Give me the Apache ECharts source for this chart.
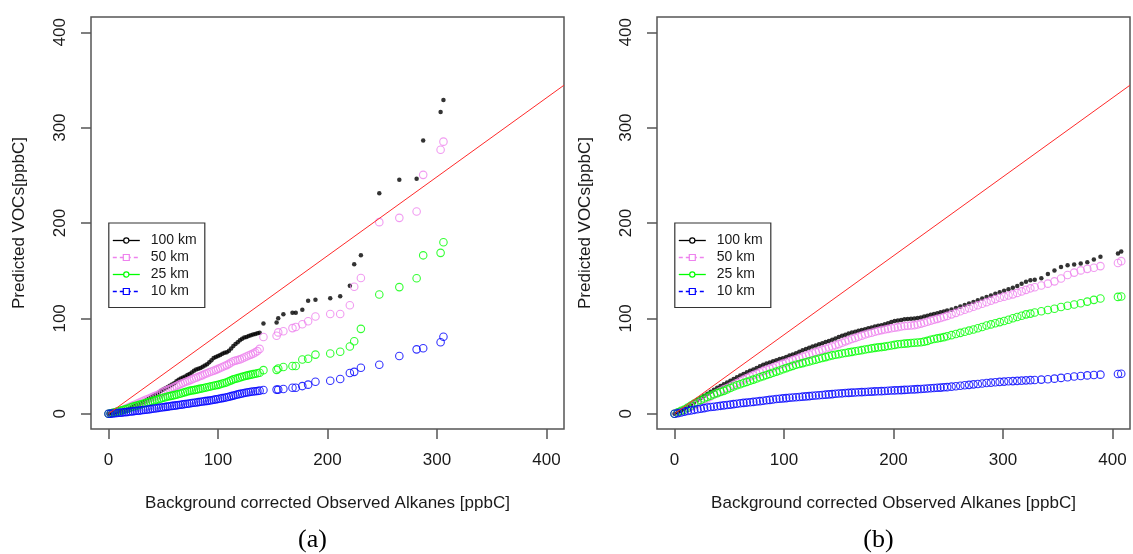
<!DOCTYPE html>
<html><head><meta charset="utf-8">
<script src="https://cdn.jsdelivr.net/npm/echarts@6/dist/echarts.min.js"></script>
<style>html,body{margin:0;padding:0;background:#fff}#c{width:1133px;height:554px}</style>
</head><body><div id="c"></div>
<script>
// ---------- data ----------
const tickValues = [0, 100, 200, 300, 400];
const seriesNames = ['100 km', '50 km', '25 km', '10 km'];
const xTitle = 'Background corrected Observed Alkanes [ppbC]';
const yTitle = 'Predicted VOCs[ppbC]';
const panelLabels = ['(a)', '(b)'];

// panel (a)
const xA = [0,2,4,6,8,10,12,14,16,18, 20,22,24,26,28,30,32,34,36,38,
  40,42,44,46,48,50,52,54,56,58, 60,62,64,66,68,70,72,74,76,78,
  80,82,84,86,88,90,92,94,96,98, 100,102,104,106,108,110,112,114,116,118,
  120,122,124,126,128,130,132,134,136,138,
  141.5,153.5,155,159.7,168,171,177,182.3,189,202.5,211.6,220.4,224.4,230.5,247.3,265.6,281.4,287.4,303.3,305.9];
const a100 = [0,0.3,0.7,1,1.6,2.3,3,3.6,4.3,5, 6,7,8,9,10,11,12.3,13.8,15.5,16.8,
  18,19.5,20.8,22.2,24,25.3,26.7,28,29.3,30.7, 32,34,35.7,37,38,39,40.5,41.8,43.3,45,
  46.3,47.3,48,49.3,50.7,52,54,56,58.5,59.5, 60.5,61.5,62.8,64,64.5,66,68.5,71,73,75,
  77,78.7,80,80.5,81.5,82.3,83,83.7,84.3,85,
  94.6,95.7,100.1,104.2,106,106,109,118.6,119.4,121.2,123.1,134.2,156.8,166.1,231.3,245.3,246.5,286.5,316.5,329];
const a50 = [0,0.5,1,1.5,2.2,2.8,3.5,4.5,5.5,6.5, 7.5,8.5,9.5,10.5,11.5,12.5,13.5,14.7,15.5,16.5,
  17.5,18.5,19.3,20.3,22,23,24,25,26,27, 28,29,30.3,31.3,32.3,33.3,34,35,36,37,
  37.7,38.7,39.5,40.5,41.7,42.5,43.5,44.3,45,46, 47,48,49,50,51,52.3,53.7,55,55.7,56.3,
  57,58,59,60,61,62,63,64.3,65.7,68,
  80.5,81.7,85.3,86.5,89.8,90.9,93.8,97,102,104.6,104.6,113.8,133.1,142.4,200.9,205.4,212,250.5,276.8,285.3];
const a25 = [0,0.5,1,1.5,2.2,2.8,3.5,4.2,4.8,5.5, 6.5,7.3,8,8.7,9.3,10,10.7,11.3,12,12.7,
  13.3,14,14.7,15.3,16,16.7,17.3,18,18.5,19, 19.5,20,20.7,21.3,22,22.7,23.3,24,24.5,24.8,
  25.3,25.8,26.3,26.8,27.3,27.8,28.3,28.8,29.3,29.8, 30.3,31,31.7,32.3,33,34,35,36,36.7,37.3,
  38,38.7,39.3,40,40.5,41,41.5,42,42.5,43,
  45.7,46,47.5,49,50.1,50.1,56.8,57.6,62,63.1,65,70.5,76,89,125,132.8,142,166.1,168.7,179.8];
const a10 = [0,0.1,0.3,0.5,0.7,1,1.2,1.5,1.7,2, 2.3,2.5,2.8,3.1,3.3,3.6,3.9,4.2,4.5,4.8,
  5.2,5.5,5.8,6.2,6.5,6.8,7.2,7.5,7.8,8.2, 8.5,8.8,9.2,9.5,9.8,10.2,10.5,10.8,11.2,11.5,
  11.8,12.2,12.5,12.8,13.2,13.5,13.8,14.2,14.7,15.1, 15.5,16,16.4,16.8,17.3,17.8,18.5,19,19.7,20.3,
  20.8,21.3,21.8,22.2,22.6,23,23.3,23.6,23.9,24.2,
  24.9,25.3,25.3,26,27.2,27.2,29,30.5,33.5,34.6,36.4,42.7,43.9,48.3,51.3,60.5,67.5,68.7,75,80.8];

// panel (b)
const xB = [0,3,6,9,12,15,18,21,24,27, 30,33,36,39,42,45,48,51,54,57,
  60,63,66,69,72,75,78,81,84,87, 90,93,96,99,102,105,108,111,114,117,
  120,123,126,129,132,135,138,141,144,147, 150,153,156,159,162,165,168,171,174,177,
  180,183,186,189,192,195,198,201,204,207, 210,213,216,219,222,225,228,231,234,237,
  240,243,246,249,
  253,257,261,265,269,273,277,281,285,289, 293,297,301,305,309,313,317,321,325,329,
  335,341,347,353,359,365,371,377,383,389, 405,408];
const b100 = [0,1.5,3.2,5.2,7.6,10,12.4,14.7,16.8,18.9, 21,23.1,25.2,27.3,29.2,31,32.8,34.6,36.4,38.2,
  40,41.8,43.5,45,46.5,48,49.8,51.4,52.6,53.8, 55,56.2,57.3,58.2,59.5,61,62.2,63.5,65,66.5,
  68,69.2,70.4,71.6,72.8,74,75.2,76.4,77.6,79, 80.5,81.7,82.9,84.1,85.1,86,86.9,87.8,88.7,89.6,
  90.5,91.4,92.2,92.8,93.8,95,96.2,97.2,97.8,98.4, 99,99.3,99.6,99.9,100.4,101,101.9,102.8,103.7,104.6,
  105.5,106.4,107.3,108.2,
  109.4,110.8,112.4,114,115.6,117.2,119,120.9,122.5,124.1, 125.7,127.3,128.9,130.5,132.1,134,136.2,138.4,140,140.4,
  142,146.6,150.2,153.8,155.8,156.5,157.6,158.8,161.8,164.6, 168,170];
const b50 = [0,1.2,2.5,4,5.7,7.5,9,10.6,12.4,14.2, 16,18.1,20.1,21.9,23.7,25.5,27,28.6,30.4,32.2,
  34,35.8,37.5,39,40.5,42,43.5,44.9,46.1,47.3, 48.5,50,51.4,52.6,53.8,55,56.2,57.4,58.6,59.8,
  61,62.2,63.4,64.6,65.8,67,68.2,69.4,70.6,71.8, 73,74.5,75.9,77.1,78.3,79.5,80.7,81.9,83.1,84.1,
  85,85.9,86.8,87.7,88.4,89,89.6,90.2,90.8,91.4, 92,92.3,92.6,92.9,93.6,94.5,95.4,96.4,97.6,98.6,
  99.5,100.4,101.4,102.6,
  104.2,105.8,107.4,109,110.6,112.2,113.8,115.4,117,118.6, 120.2,121.6,122.8,124,125.2,126.7,128.3,129.9,131.5,132.7,
  134.5,136.4,138.8,141.8,145.4,148,150.3,151.9,153.1,154.8, 158,160];
const b25 = [0,1.5,3,4.3,6.4,8.5,10.6,12.6,14.4,16, 17.5,19,20.4,21.6,22.8,24,25.5,27,28.6,29.8,
  31,32.2,33.4,34.6,35.8,37,38.2,39.4,40.6,41.8, 43,44.2,45.4,46.6,47.8,49,50.2,51.3,52.2,53.1,
  54,54.9,55.8,56.7,57.6,58.5,59.4,60.3,61.2,61.9, 62.5,63.1,63.7,64.3,64.9,65.5,66.1,66.7,67.3,67.9,
  68.5,69.1,69.6,69.9,70.4,71,71.6,72.2,72.8,73.2, 73.5,73.8,74.1,74.4,74.7,75,75.6,76.4,77.6,78.4,
  79,79.6,80.3,81.2,
  82.4,83.6,84.8,86,87.2,88.4,89.6,90.9,92.5,93.7, 94.9,96.1,97.3,98.5,100.1,101.4,102.8,104.2,105,106.2,
  107.5,108.7,110.1,111.9,113.3,114.5,115.8,117.6,119.4,120.8, 122.5,123];
const b10 = [0,0.6,1.3,2.2,2.9,3.5,4.1,4.7,5.3,5.9, 6.5,7,7.4,7.9,8.3,8.8,9.2,9.6,10.1,10.5,
  11,11.4,11.7,12.1,12.4,12.8,13.2,13.6,14.1,14.5, 15,15.4,15.7,16.1,16.4,16.7,17,17.3,17.6,17.9,
  18.2,18.5,18.8,19.1,19.4,19.7,20,20.3,20.6,20.9, 21.2,21.4,21.7,21.9,22.1,22.3,22.5,22.7,22.8,23,
  23.2,23.4,23.6,23.7,23.9,24.1,24.3,24.5,24.6,24.8, 25,25.2,25.4,25.5,25.8,26,26.2,26.5,26.7,27,
  27.2,27.4,27.7,27.9,
  28.4,28.8,29.3,29.8,30.3,30.8,31.2,31.7,32.2,32.6, 33,33.4,33.7,34,34.2,34.5,34.7,35,35.2,35.4,
  35.8,36.2,36.8,37.6,38.3,39,39.6,40.2,40.6,41, 41.7,42];

// reference line (end points, data units)
const refX = [0, 416];
const refY = [0, 344.5];

// ---------- styles ----------
const colors = ['#000000', '#ee82ee', '#00ff00', '#0000ff'];
const FONT = '"Liberation Sans", Arial, sans-serif';
const panels = [
  {left: 91, x: xA, ys: [a100, a50, a25, a10]},
  {left: 657, x: xB, ys: [b100, b50, b25, b10]}
];
const GT = 17, GW = 473, GH = 412;

function zip(xs, ys) { return xs.map((v, i) => [v, ys[i]]); }

const grids = [], xAxes = [], yAxes = [], series = [], graphics = [];
panels.forEach((p, pi) => {
  grids.push({left: p.left, top: GT, width: GW, height: GH, show: true,
    borderColor: '#555', borderWidth: 1.5, backgroundColor: 'transparent', containLabel: false});
  xAxes.push({type: 'value', gridIndex: pi, min: -16, max: 416, position: 'bottom',
    axisLine: {show: false, onZero: false}, splitLine: {show: false},
    axisTick: {show: true, length: 10, customValues: tickValues, lineStyle: {color: '#555', width: 1.5}},
    axisLabel: {customValues: tickValues, fontSize: 17, fontFamily: FONT, color: '#1a1a1a', margin: 23}});
  yAxes.push({type: 'value', gridIndex: pi, min: -16, max: 416, position: 'left',
    axisLine: {show: false, onZero: false}, splitLine: {show: false},
    axisTick: {show: true, length: 10, customValues: tickValues, lineStyle: {color: '#555', width: 1.5}},
    axisLabel: {customValues: tickValues, fontSize: 17, fontFamily: FONT, color: '#1a1a1a', margin: 22, rotate: 90}});
  p.ys.forEach((ys, si) => {
    const isDot = si === 0;
    series.push({type: 'scatter', name: seriesNames[si], xAxisIndex: pi, yAxisIndex: pi,
      data: zip(p.x, ys), symbol: 'circle', symbolSize: isDot ? 4.5 : 7.5,
      itemStyle: isDot ? {color: colors[si]} : {color: 'rgba(0,0,0,0)', borderColor: colors[si], borderWidth: 1.1},
      emphasis: {disabled: true}, animation: false});
  });
  series.push({type: 'line', xAxisIndex: pi, yAxisIndex: pi, data: zip(refX, refY),
    symbol: 'none', lineStyle: {color: '#ff2a2a', width: 1}, animation: false, z: 5});

  const cx = p.left + GW / 2;
  graphics.push({type: 'text', x: cx, y: 503.5, style: {text: xTitle, font: '17px ' + FONT,
    fill: '#1a1a1a', textAlign: 'center', textVerticalAlign: 'middle'}});
  graphics.push({type: 'text', x: p.left - 71.5, y: GT + GH / 2, rotation: Math.PI / 2,
    style: {text: yTitle, font: '17px ' + FONT, fill: '#1a1a1a', textAlign: 'center', textVerticalAlign: 'middle'}});
  graphics.push({type: 'text', x: cx - 15, y: 540, style: {text: panelLabels[pi],
    font: '26px "Liberation Serif", "Times New Roman", serif', fill: '#000', textAlign: 'center', textVerticalAlign: 'middle'}});

  // legend
  const L = p.left + 17.8, T = GT + 206;
  graphics.push({type: 'rect', shape: {x: L, y: T, width: 96, height: 84.5},
    style: {fill: '#fff', stroke: '#333', lineWidth: 1.2}, z: 10});
  const rowsY = [17.5, 34.5, 51.5, 68.5];
  seriesNames.forEach((nm, si) => {
    const yy = T + rowsY[si];
    const dashed = si % 2 === 1;
    graphics.push({type: 'line', shape: {x1: L + 4, y1: yy, x2: L + 31, y2: yy},
      style: {stroke: colors[si], lineWidth: 1.3, lineDash: dashed ? [4, 3] : null}, z: 11});
    if (dashed) {
      graphics.push({type: 'rect', shape: {x: L + 14.5, y: yy - 3, width: 6, height: 6},
        style: {fill: '#fff', stroke: colors[si], lineWidth: 1.2}, z: 12});
    } else {
      graphics.push({type: 'circle', shape: {cx: L + 17.5, cy: yy, r: 2.6},
        style: {fill: '#fff', stroke: colors[si], lineWidth: 1.2}, z: 12});
    }
    graphics.push({type: 'text', x: L + 42, y: yy, style: {text: nm, font: '14px ' + FONT,
      fill: '#1a1a1a', textAlign: 'left', textVerticalAlign: 'middle'}, z: 12});
  });
});

const chart = echarts.init(document.getElementById('c'), null, {renderer: 'canvas'});
chart.setOption({animation: false, backgroundColor: '#fff', grid: grids, xAxis: xAxes, yAxis: yAxes,
  series: series, graphic: graphics});
</script>
</body></html>
